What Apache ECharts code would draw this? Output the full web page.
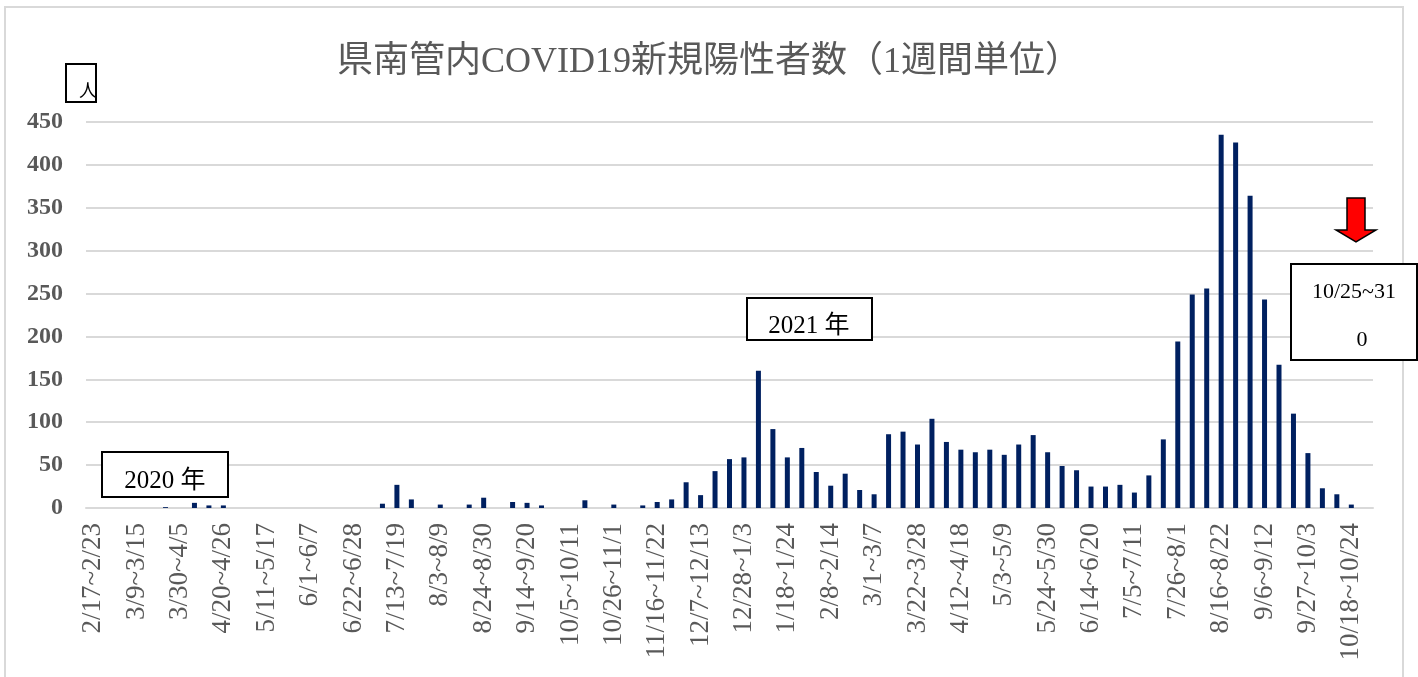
<!DOCTYPE html>
<html>
<head>
<meta charset="utf-8">
<script src="https://cdn.jsdelivr.net/npm/echarts@6/dist/echarts.min.js"></script>
<style>
  html, body { margin: 0; padding: 0; background: #fff; }
  #chart { width: 1418px; height: 677px; }
</style>
</head>
<body>
<div id="chart"></div>
<script>
// 週 (月曜〜日曜)
var weeks = [
  "2/17~2/23", "2/24~3/1", "3/2~3/8", "3/9~3/15", "3/16~3/22", "3/23~3/29",
  "3/30~4/5", "4/6~4/12", "4/13~4/19", "4/20~4/26", "4/27~5/3", "5/4~5/10",
  "5/11~5/17", "5/18~5/24", "5/25~5/31", "6/1~6/7", "6/8~6/14", "6/15~6/21",
  "6/22~6/28", "6/29~7/5", "7/6~7/12", "7/13~7/19", "7/20~7/26", "7/27~8/2",
  "8/3~8/9", "8/10~8/16", "8/17~8/23", "8/24~8/30", "8/31~9/6", "9/7~9/13",
  "9/14~9/20", "9/21~9/27", "9/28~10/4", "10/5~10/11", "10/12~10/18", "10/19~10/25",
  "10/26~11/1", "11/2~11/8", "11/9~11/15", "11/16~11/22", "11/23~11/29", "11/30~12/6",
  "12/7~12/13", "12/14~12/20", "12/21~12/27", "12/28~1/3", "1/4~1/10", "1/11~1/17",
  "1/18~1/24", "1/25~1/31", "2/1~2/7", "2/8~2/14", "2/15~2/21", "2/22~2/28",
  "3/1~3/7", "3/8~3/14", "3/15~3/21", "3/22~3/28", "3/29~4/4", "4/5~4/11",
  "4/12~4/18", "4/19~4/25", "4/26~5/2", "5/3~5/9", "5/10~5/16", "5/17~5/23",
  "5/24~5/30", "5/31~6/6", "6/7~6/13", "6/14~6/20", "6/21~6/27", "6/28~7/4",
  "7/5~7/11", "7/12~7/18", "7/19~7/25", "7/26~8/1", "8/2~8/8", "8/9~8/15",
  "8/16~8/22", "8/23~8/29", "8/30~9/5", "9/6~9/12", "9/13~9/19", "9/20~9/26",
  "9/27~10/3", "10/4~10/10", "10/11~10/17", "10/18~10/24", "10/25~10/31"
];

// 新規陽性者数 (人)
var cases = [
  0, 0, 0, 0, 0, 1,
  0, 6, 3, 3, 0, 0,
  0, 0, 0, 0, 0, 0,
  0, 0, 5, 27, 10, 0,
  4, 0, 4, 12, 0, 7,
  6, 3, 0, 0, 9, 0,
  4, 0, 3, 7, 10, 30,
  15, 43, 57, 59, 160, 92,
  59, 70, 42, 26, 40, 21,
  16, 86, 89, 74, 104, 77,
  68, 65, 68, 62, 74, 85,
  65, 49, 44, 25, 25, 27,
  18, 38, 80, 194, 249, 256,
  435, 426, 364, 243, 167, 110,
  64, 23, 16, 4, 0
];

var yTicks = { min: 0, max: 450, interval: 50 };

var titleText = "県南管内COVID19新規陽性者数（1週間単位）";
var unitText = "人";
var year2020 = "2020 年";
var year2021 = "2021 年";
var lastWeekText = ["10/25~31", "0"];

var serif = "'Liberation Serif', 'Noto Sans CJK JP', serif";

var myechart = echarts.init(document.getElementById("chart"));
var option = {
  backgroundColor: "#fff",
  animation: false,
  title: {
    text: titleText,
    left: "center",
    top: 40,
    textStyle: {
      fontFamily: serif,
      fontSize: 36,
      fontWeight: "normal",
      color: "#595959"
    }
  },
  grid: {
    left: 86,
    right: 45,
    top: 122,
    bottom: 169,
    containLabel: false
  },
  xAxis: {
    type: "category",
    data: weeks,
    axisTick: { show: false },
    axisLine: { lineStyle: { color: "#d9d9d9", width: 2 } },
    axisLabel: {
      interval: 2,
      rotate: 90,
      margin: 15,
      color: "#595959",
      fontFamily: serif,
      fontSize: 27
    }
  },
  yAxis: {
    type: "value",
    min: yTicks.min,
    max: yTicks.max,
    interval: yTicks.interval,
    axisLine: { show: false },
    axisTick: { show: false },
    axisLabel: {
      margin: 23,
      color: "#595959",
      fontFamily: serif,
      fontWeight: "bold",
      fontSize: 24
    },
    splitLine: { lineStyle: { color: "#d9d9d9", width: 2 } }
  },
  series: [{
    type: "bar",
    data: cases,
    barWidth: 5,
    itemStyle: { color: "#002060" }
  }],
  graphic: [
    // 外枠
    {
      type: "rect", z: 1, silent: true,
      shape: { x: 5, y: 7, width: 1398, height: 700 },
      style: { fill: "none", stroke: "#d9d9d9", lineWidth: 2 }
    },
    // 単位
    {
      type: "rect", z: 100,
      shape: { x: 66, y: 64, width: 30, height: 38 },
      style: { fill: "#fff", stroke: "#000", lineWidth: 2 }
    },
    {
      type: "text", z: 101,
      x: 88, y: 92,
      style: { text: unitText, fontFamily: serif, fontSize: 18, fill: "#000", align: "center", verticalAlign: "middle" }
    },
    // 2020年
    {
      type: "rect", z: 100,
      shape: { x: 102, y: 452, width: 126, height: 45 },
      style: { fill: "#fff", stroke: "#000", lineWidth: 2 }
    },
    {
      type: "text", z: 101,
      x: 165, y: 481,
      style: { text: year2020, fontFamily: serif, fontSize: 25, fill: "#000", align: "center", verticalAlign: "middle" }
    },
    // 2021年
    {
      type: "rect", z: 100,
      shape: { x: 747, y: 298, width: 125, height: 42 },
      style: { fill: "#fff", stroke: "#000", lineWidth: 2 }
    },
    {
      type: "text", z: 101,
      x: 809, y: 326,
      style: { text: year2021, fontFamily: serif, fontSize: 25, fill: "#000", align: "center", verticalAlign: "middle" }
    },
    // 10/25~31
    {
      type: "rect", z: 100,
      shape: { x: 1291, y: 264, width: 126, height: 96 },
      style: { fill: "#fff", stroke: "#000", lineWidth: 2 }
    },
    {
      type: "text", z: 101,
      x: 1354, y: 292,
      style: { text: lastWeekText[0], fontFamily: serif, fontSize: 22, fill: "#000", align: "center", verticalAlign: "middle" }
    },
    {
      type: "text", z: 101,
      x: 1362, y: 340,
      style: { text: lastWeekText[1], fontFamily: serif, fontSize: 22, fill: "#000", align: "center", verticalAlign: "middle" }
    },
    // 矢印
    {
      type: "polygon", z: 100,
      shape: {
        points: [[1347, 198], [1365, 198], [1365, 230], [1376, 230], [1356, 242], [1336, 230], [1347, 230]]
      },
      style: { fill: "#ff0000", stroke: "#000", lineWidth: 1.5 }
    }
  ]
};
myechart.setOption(option);
window.addEventListener("resize", function () {
  myechart.resize();
});
</script>
</body>
</html>
